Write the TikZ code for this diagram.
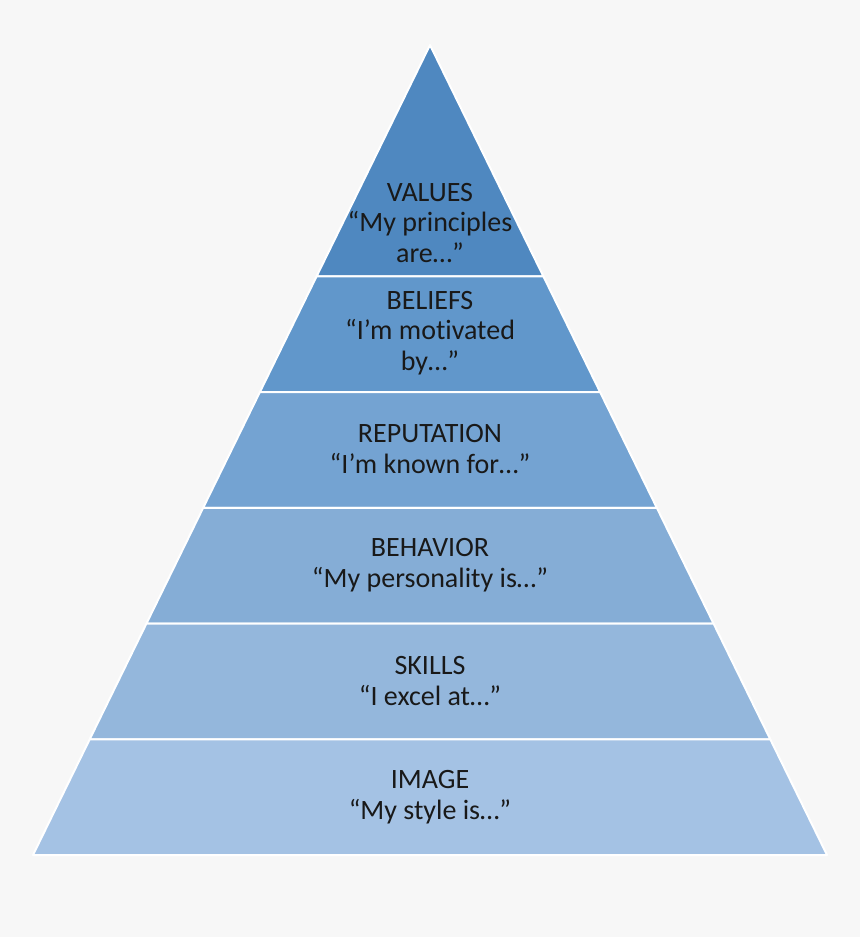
\documentclass[tikz,border=0pt]{standalone}
\usepackage{fontspec}
\setmainfont{Carlito}[Ligatures={NoCommon}]
\usetikzlibrary{math}
\usepackage{xcolor}

\definecolor{pagebg}{HTML}{F7F7F7}
\definecolor{tier1}{HTML}{4F88C0}
\definecolor{tier2}{HTML}{6197CB}
\definecolor{tier3}{HTML}{74A3D2}
\definecolor{tier4}{HTML}{85ADD6}
\definecolor{tier5}{HTML}{94B7DC}
\definecolor{tier6}{HTML}{A4C2E4}

\begin{document}
\begin{tikzpicture}[x=1pt,y=-1pt,
	tier/.style={draw=white,line width=2pt,line join=round},
	tierlabel/.style={align=center,font=\fontsize{28}{30.5}\selectfont,text=black!90}]
	\fill[pagebg] (0,0) rectangle (860,937);
	\useasboundingbox (0,0) rectangle (860,937);
	\tikzmath{\h=810/7; \w=397/7;}
	\foreach \n/\t/\b/\c in {
			1/0/2/tier1,
			2/2/3/tier2,
			3/3/4/tier3,
			4/4/5/tier4,
			5/5/6/tier5,
			6/6/7/tier6}
		{
		\pgfmathsetmacro{\ya}{45+\t*\h}
		\pgfmathsetmacro{\yb}{45+\b*\h}
		\pgfmathsetmacro{\wa}{\t*\w}
		\pgfmathsetmacro{\wb}{\b*\w}
		\fill[tier,fill=\c] (430-\wa,\ya) -- (430+\wa,\ya)
			-- (430+\wb,\yb) -- (430-\wb,\yb) -- cycle;
	};

	\node[tierlabel] (values) at (430,223) {VALUES\\“My principles\\are…”};
	\node[tierlabel] (beliefs) at (430,333) {BELIEFS\\“I’m motivated\\by…”};
	\node[tierlabel] (reputation) at (430,449) {REPUTATION\\“I’m known for…”};
	\node[tierlabel] (behavior) at (430,565) {BEHAVIOR\\“My personality is…”};
	\node[tierlabel] (skills) at (430,681) {SKILLS\\“I excel at…”};
	\node[tierlabel] (image) at (430,797) {IMAGE\\“My style is…”};
\end{tikzpicture}
\end{document}
